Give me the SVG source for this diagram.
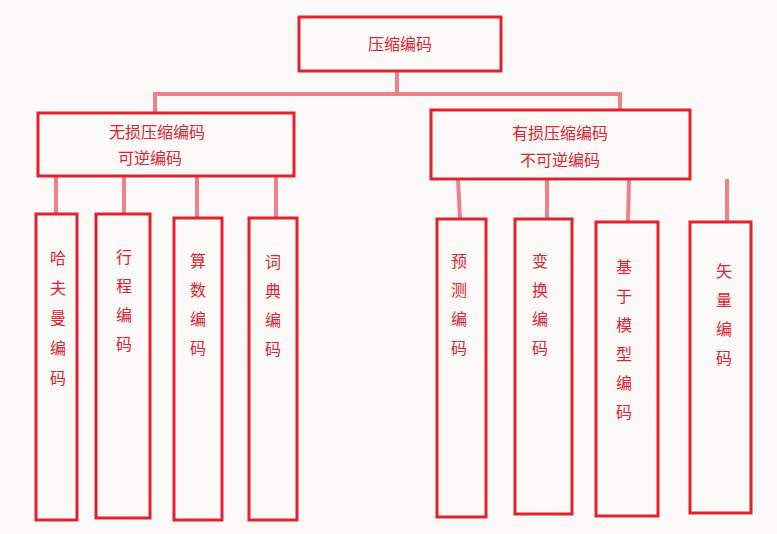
<svg xmlns="http://www.w3.org/2000/svg" width="777" height="534" viewBox="0 0 777 534">
<style>
.b{fill:none;stroke:#e0222e;stroke-width:3}
.c line{stroke:#ef8088;stroke-width:4}
text{font-family:"Noto Sans CJK SC",sans-serif;font-size:16px;fill:#e0222e;text-anchor:middle}
</style>
<rect width="777" height="534" fill="#fbfaf8"/>
<g class="c" id="connectors">
<line x1="397" y1="71" x2="397" y2="95"/>
<line x1="155" y1="94" x2="620" y2="94"/>
<line x1="155" y1="92" x2="155" y2="113"/>
<line x1="620" y1="92" x2="620" y2="110"/>
<line x1="56" y1="176" x2="56" y2="214"/>
<line x1="124" y1="176" x2="124" y2="214"/>
<line x1="197" y1="176" x2="197" y2="218"/>
<line x1="276" y1="176" x2="276" y2="218"/>
<line x1="458" y1="179" x2="460" y2="219"/>
<line x1="547" y1="179" x2="547" y2="219"/>
<line x1="629" y1="179" x2="628" y2="222"/>
<line x1="727" y1="179" x2="727" y2="222"/>
</g>
<g id="root"><rect class="b" x="299" y="17" width="202" height="54"/><text x="400" y="50">压缩编码</text></g>
<g id="lossless"><rect class="b" x="38" y="113" width="256" height="63"/><text x="157" y="138">无损压缩编码</text><text x="150" y="164">可逆编码</text></g>
<g id="lossy"><rect class="b" x="431" y="110" width="259" height="69"/><text x="560" y="139">有损压缩编码</text><text x="560" y="166">不可逆编码</text></g>
<g id="n1"><rect class="b" x="36" y="214" width="41" height="306"/><text x="58" y="264">哈</text><text x="58" y="294">夫</text><text x="58" y="324">曼</text><text x="58" y="354">编</text><text x="58" y="384">码</text></g>
<g id="n2"><rect class="b" x="96" y="214" width="54" height="304"/><text x="124" y="263">行</text><text x="124" y="292">程</text><text x="124" y="321">编</text><text x="124" y="350">码</text></g>
<g id="n3"><rect class="b" x="174" y="218" width="48" height="302"/><text x="198" y="267">算</text><text x="198" y="296">数</text><text x="198" y="325">编</text><text x="198" y="354">码</text></g>
<g id="n4"><rect class="b" x="249" y="218" width="48" height="302"/><text x="273" y="268">词</text><text x="273" y="297">典</text><text x="273" y="326">编</text><text x="273" y="355">码</text></g>
<g id="n5"><rect class="b" x="437" y="219" width="49" height="298"/><text x="459" y="267">预</text><text x="459" y="296">测</text><text x="459" y="325">编</text><text x="459" y="354">码</text></g>
<g id="n6"><rect class="b" x="515" y="219" width="57" height="295"/><text x="540" y="267">变</text><text x="540" y="296">换</text><text x="540" y="325">编</text><text x="540" y="354">码</text></g>
<g id="n7"><rect class="b" x="596" y="222" width="62" height="294"/><text x="624" y="273">基</text><text x="624" y="302">于</text><text x="624" y="331">模</text><text x="624" y="360">型</text><text x="624" y="389">编</text><text x="624" y="418">码</text></g>
<g id="n8"><rect class="b" x="690" y="222" width="61" height="291"/><text x="724" y="277">矢</text><text x="724" y="306">量</text><text x="724" y="335">编</text><text x="724" y="364">码</text></g>
</svg>
